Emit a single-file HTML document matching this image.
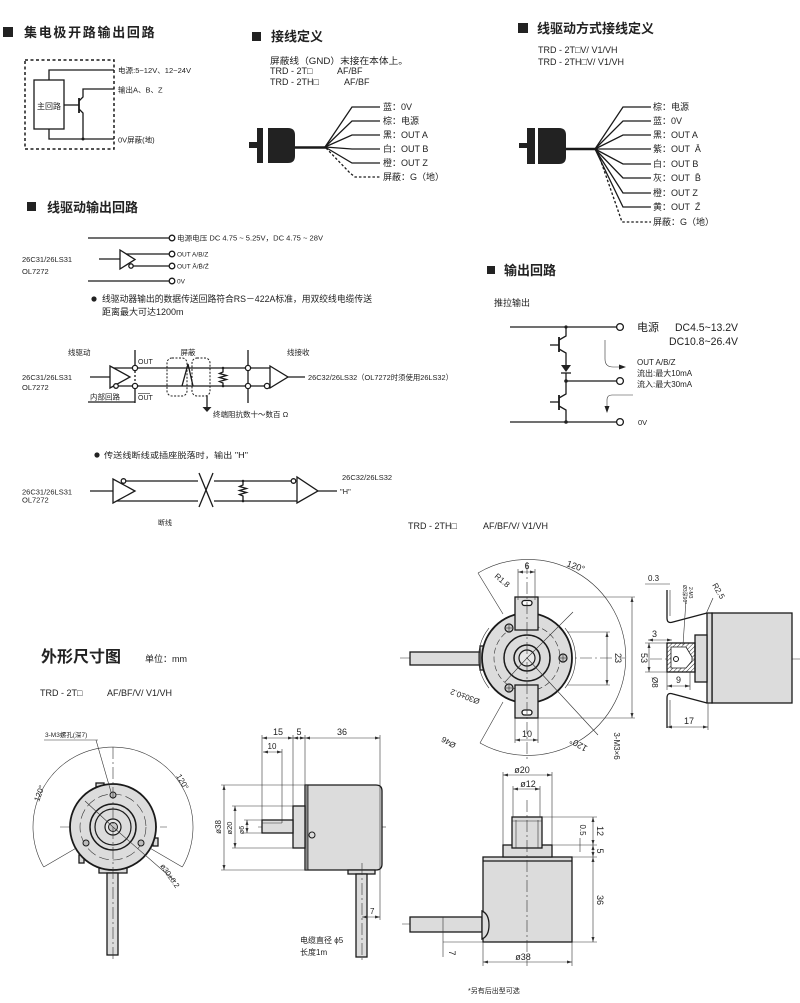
<!DOCTYPE html>
<html><head><meta charset="utf-8"><style>
html,body{margin:0;padding:0;background:#fff}
svg{display:block}
text{font-family:"Liberation Sans","Noto Sans CJK SC",sans-serif;fill:#222}
.h{font-weight:bold;font-size:13px}
.s7{font-size:7px}.s75{font-size:7.5px}.s8{font-size:8px}.s9{font-size:9px}.s11{font-size:11px}
.l{stroke:#1a1a1a;stroke-width:1.3;fill:none}
.th{stroke:#333;stroke-width:0.6;fill:none}
.cl{stroke:#333;stroke-width:0.6;fill:none;stroke-dasharray:12,3,2,3}
.dm{stroke:#333;stroke-width:0.6;fill:none;marker-start:url(#a);marker-end:url(#a)}
.g{fill:#dcdcdc;stroke:#1a1a1a;stroke-width:1.3}
.wc{fill:#fff;stroke:#1a1a1a;stroke-width:1.3}
</style></head><body>
<svg width="800" height="1003" viewBox="0 0 800 1003" xmlns="http://www.w3.org/2000/svg">
<defs>
<marker id="a" viewBox="0 0 10 10" refX="10" refY="5" markerUnits="userSpaceOnUse" markerWidth="5" markerHeight="5" orient="auto-start-reverse"><path d="M0,2 L10,5 L0,8 z" fill="#333"/></marker>
<pattern id="hat" width="3" height="3" patternUnits="userSpaceOnUse" patternTransform="rotate(45)"><line x1="0" y1="0" x2="0" y2="3" stroke="#333" stroke-width="1"/></pattern>
</defs>
<rect width="800" height="1003" fill="#fff"/>

<!-- ===== Section 1: open collector ===== -->
<rect x="3" y="27" width="10" height="10" fill="#222"/>
<text x="24" y="37" class="h" style="letter-spacing:1.7px">集电极开路输出回路</text>
<rect x="25" y="60" width="89" height="89" fill="none" stroke="#1a1a1a" stroke-width="1.5" stroke-dasharray="3,2.5"/>
<rect x="34" y="80" width="30" height="49" class="l"/>
<text x="49" y="109" class="s8" text-anchor="middle">主回路</text>
<polyline points="49,80 49,70 114,70" class="l"/>
<polyline points="49,129 49,139 114,139" class="l"/>
<line x1="64" y1="105" x2="79" y2="105" class="l"/>
<line x1="79" y1="98" x2="79" y2="113" stroke="#1a1a1a" stroke-width="1.8"/>
<polyline points="79,101 83,97 83,89 114,89" class="l"/>
<polyline points="79,109 83,113 83,139" class="l"/>
<circle cx="83" cy="139" r="1.5" fill="#1a1a1a"/>
<text x="118" y="73" class="s75" textLength="73" lengthAdjust="spacingAndGlyphs">电源:5~12V、12~24V</text>
<text x="118" y="92.5" class="s75">输出A、B、Z</text>
<text x="118" y="142.5" class="s75">0V屏蔽(地)</text>

<!-- ===== Section 2: wiring ===== -->
<rect x="252" y="32" width="9" height="9" fill="#222"/>
<text x="271" y="41" class="h">接线定义</text>
<text x="270" y="64" class="s9" textLength="138" lengthAdjust="spacingAndGlyphs">屏蔽线（GND）末接在本体上。</text>
<text x="270" y="74" class="s9">TRD - 2T□</text><text x="337" y="74" class="s9">AF/BF</text>
<text x="270" y="85" class="s9">TRD - 2TH□</text><text x="344" y="85" class="s9">AF/BF</text>
<rect x="249" y="142" width="8" height="6" fill="#222"/>
<rect x="257" y="128" width="6" height="35" fill="#222"/>
<path d="M268,128 H288 Q295,128 295,135 V156 Q295,163 288,163 H268 Z" fill="#222"/>
<line x1="295" y1="147.5" x2="326" y2="147.5" stroke="#1a1a1a" stroke-width="2.5"/>
<g class="l">
<polyline points="325,147 352,107 380,107"/>
<polyline points="325,147 352,121 380,121"/>
<polyline points="325,147 352,135 380,135"/>
<polyline points="325,147 352,149 380,149"/>
<polyline points="325,147 352,163 380,163"/>
</g>
<polyline points="326,148 350,173 355,177 380,177" class="l" stroke-dasharray="2.5,2"/>
<g class="s9">
<text x="383" y="110">蓝：0V</text>
<text x="383" y="124">棕：电源</text>
<text x="383" y="138">黑：OUT A</text>
<text x="383" y="152">白：OUT B</text>
<text x="383" y="166">橙：OUT Z</text>
<text x="383" y="180">屏蔽：G（地）</text>
</g>

<!-- ===== Section 3: line driver wiring ===== -->
<rect x="518" y="23" width="10" height="10" fill="#222"/>
<text x="537" y="33" class="h">线驱动方式接线定义</text>
<text x="538" y="53" class="s9">TRD - 2T□V/ V1/VH</text>
<text x="538" y="65" class="s9">TRD - 2TH□V/ V1/VH</text>
<rect x="519" y="143" width="8" height="5" fill="#222"/>
<rect x="527" y="128" width="8" height="36" fill="#222"/>
<path d="M538,128 H559 Q566,128 566,135 V157 Q566,164 559,164 H538 Z" fill="#222"/>
<line x1="566" y1="149" x2="596" y2="149" stroke="#1a1a1a" stroke-width="2.5"/>
<g class="l">
<polyline points="595,149 623,107 651,107"/>
<polyline points="595,149 623,121 651,121"/>
<polyline points="595,149 623,135 651,135"/>
<polyline points="595,149 623,149 651,149"/>
<polyline points="595,149 623,164 651,164"/>
<polyline points="595,149 623,178 651,178"/>
<polyline points="595,149 623,193 651,193"/>
<polyline points="595,149 623,207 651,207"/>
</g>
<polyline points="597,150 622,222 651,222" class="l" stroke-dasharray="2.5,2"/>
<g class="s9">
<text x="653" y="110">棕：电源</text>
<text x="653" y="124">蓝：0V</text>
<text x="653" y="138">黑：OUT A</text>
<text x="653" y="152">紫：OUT &#160;A&#772;</text>
<text x="653" y="167">白：OUT B</text>
<text x="653" y="181">灰：OUT &#160;B&#772;</text>
<text x="653" y="196">橙：OUT Z</text>
<text x="653" y="210">黄：OUT &#160;Z&#772;</text>
<text x="653" y="225">屏蔽：G（地）</text>
</g>

<!-- ===== Section 4: line driver output ===== -->
<rect x="27" y="202" width="9" height="9" fill="#222"/>
<text x="47" y="212" class="h">线驱动输出回路</text>
<line x1="88" y1="238" x2="169" y2="238" class="l"/>
<circle cx="172" cy="238" r="2.8" class="wc"/>
<text x="177" y="240.5" class="s7" textLength="146" lengthAdjust="spacingAndGlyphs">电源电压 DC 4.75 ~ 5.25V，DC 4.75 ~ 28V</text>
<line x1="99" y1="259" x2="120" y2="259" class="l"/>
<polygon points="120,250 120,269 135,259.5" class="wc"/>
<line x1="126" y1="254" x2="169" y2="254" class="l"/>
<line x1="133" y1="266" x2="169" y2="266" class="l"/>
<circle cx="131" cy="266" r="2.2" class="wc"/>
<circle cx="172" cy="254" r="2.8" class="wc"/>
<circle cx="172" cy="266" r="2.8" class="wc"/>
<text x="177" y="256.5" class="s7" style="font-size:6.5px">OUT A/B/Z</text>
<text x="177" y="268.5" class="s7" style="font-size:6.5px">OUT A&#772;/B&#772;/Z&#772;</text>
<line x1="88" y1="281" x2="169" y2="281" class="l"/>
<circle cx="172" cy="281" r="2.8" class="wc"/>
<text x="177" y="283.5" class="s7" style="font-size:6.5px">0V</text>
<text x="22" y="262" class="s75">26C31/26LS31</text>
<text x="22" y="274" class="s75">OL7272</text>
<circle cx="94" cy="299" r="2.6" fill="#222"/>
<text x="102" y="302" class="s9" textLength="270" lengthAdjust="spacingAndGlyphs">线驱动器输出的数据传送回路符合RS－422A标准，用双绞线电缆传送</text>
<text x="102" y="315" class="s9">距离最大可达1200m</text>

<!-- differential line diagram -->
<text x="68" y="355" class="s75">线驱动</text>
<text x="22" y="380" class="s75">26C31/26LS31</text>
<text x="22" y="390" class="s75">OL7272</text>
<line x1="90" y1="377" x2="110" y2="377" class="l"/>
<line x1="110" y1="368" x2="270" y2="368" class="l"/>
<line x1="118" y1="386" x2="265" y2="386" class="l"/>
<polygon points="110,366 110,388 130,377" class="wc"/>
<circle cx="116" cy="386" r="2.3" class="wc"/>
<line x1="135" y1="350" x2="135" y2="365" class="l"/>
<line x1="135" y1="371" x2="135" y2="383" class="l" stroke-dasharray="2,2"/>
<line x1="135" y1="389" x2="135" y2="403" class="l"/>
<circle cx="135" cy="368" r="2.6" class="wc"/>
<circle cx="135" cy="386" r="2.6" class="wc"/>
<text x="138" y="364" class="s7">OUT</text>
<text x="138" y="400" class="s7">OUT</text>
<line x1="138" y1="393.5" x2="150" y2="393.5" stroke="#222" stroke-width="0.6"/>
<text x="90" y="399.5" class="s75">内部回路</text>
<line x1="88" y1="402" x2="135" y2="402" class="l"/>
<rect x="167" y="358" width="20" height="38" rx="5" fill="none" stroke="#1a1a1a" stroke-width="1" stroke-dasharray="2,1.5"/>
<rect x="192" y="358" width="18" height="38" rx="5" fill="none" stroke="#1a1a1a" stroke-width="1" stroke-dasharray="2,1.5"/>
<text x="188" y="355" class="s75" text-anchor="middle">屏蔽</text>
<polyline points="182,386 188,364 193,386" class="l"/>
<line x1="207" y1="396" x2="207" y2="407" class="l"/>
<polygon points="202.5,407 211.5,407 207,412" fill="#222"/>
<text x="213" y="417" class="s75">终端阻抗数十～数百 Ω</text>
<polyline points="223,368 223,372 219.5,373.5 226.5,375.5 219.5,377.5 226.5,379.5 219.5,381.5 223,383 223,386" class="l"/>
<circle cx="223" cy="368" r="1.3" fill="#222"/><circle cx="223" cy="386" r="1.3" fill="#222"/>
<line x1="248" y1="350" x2="248" y2="403" class="l"/>
<circle cx="248" cy="368" r="2.6" class="wc"/>
<circle cx="248" cy="386" r="2.6" class="wc"/>
<text x="287" y="355" class="s75">线接收</text>
<polygon points="270,366 270,388 288,377" class="wc"/>
<circle cx="267" cy="386" r="2.6" class="wc"/>
<line x1="288" y1="377" x2="305" y2="377" class="l"/>
<text x="308" y="380" class="s75" textLength="145" lengthAdjust="spacingAndGlyphs">26C32/26LS32（OL7272时须使用26LS32）</text>

<!-- broken line diagram -->
<circle cx="97" cy="455" r="2.6" fill="#222"/>
<text x="104" y="458" class="s8" textLength="144" lengthAdjust="spacingAndGlyphs">传送线断线或插座脱落时，输出 "H"</text>
<text x="22" y="494.5" class="s75">26C31/26LS31</text>
<text x="22" y="502.5" class="s75">OL7272</text>
<line x1="90" y1="491" x2="113" y2="491" class="l"/>
<line x1="126" y1="481" x2="198" y2="481" class="l"/>
<line x1="214" y1="481" x2="291" y2="481" class="l"/>
<line x1="113" y1="501" x2="198" y2="501" class="l"/>
<line x1="214" y1="501" x2="297" y2="501" class="l"/>
<polygon points="113,479 113,503 135,491" class="wc"/>
<circle cx="123.5" cy="481" r="2.3" class="wc"/>
<line x1="199" y1="473" x2="213" y2="507" class="l"/>
<line x1="213" y1="473" x2="199" y2="507" class="l"/>
<polyline points="243,481 243,485 239.5,486.5 246.5,488.5 239.5,490.5 246.5,492.5 239.5,494.5 243,496 243,501" class="l"/>
<circle cx="243" cy="481" r="1.3" fill="#222"/><circle cx="243" cy="501" r="1.3" fill="#222"/>
<polygon points="297,477 297,503 318,491" class="wc"/>
<circle cx="293.5" cy="481" r="2.3" class="wc"/>
<line x1="318" y1="491" x2="337" y2="491" class="l"/>
<text x="340" y="494" class="s75">"H"</text>
<text x="342" y="480" class="s75">26C32/26LS32</text>
<text x="158" y="525" class="s7">断线</text>
<text x="408" y="529" class="s9">TRD - 2TH□</text>
<text x="483" y="529" class="s9">AF/BF/V/ V1/VH</text>

<!-- ===== Section 5: output circuit ===== -->
<rect x="487" y="266" width="8" height="8" fill="#222"/>
<text x="504" y="275" class="h">输出回路</text>
<text x="494" y="306" class="s9">推拉输出</text>
<line x1="510" y1="327" x2="616.5" y2="327" class="l"/>
<circle cx="620" cy="327" r="3.4" class="wc"/>
<text x="637" y="331" class="s11">电源</text>
<text x="675" y="331" class="s11" textLength="63" lengthAdjust="spacingAndGlyphs">DC4.5~13.2V</text>
<text x="669" y="345" class="s11" textLength="69" lengthAdjust="spacingAndGlyphs">DC10.8~26.4V</text>
<circle cx="566" cy="327" r="1.6" fill="#222"/>
<polyline points="566,327 566,336 559,340" class="l"/>
<line x1="559" y1="337" x2="559" y2="352" stroke="#1a1a1a" stroke-width="1.8"/>
<line x1="550" y1="345" x2="559" y2="345" class="l"/>
<polyline points="559,349 566,353 566,365" class="l"/>
<polygon points="561,365 571,365 566,372" fill="#222"/>
<line x1="561" y1="373" x2="571" y2="373" class="l"/>
<polyline points="566,373 566,394 559,398" class="l"/>
<circle cx="566" cy="381" r="1.8" fill="#222"/>
<line x1="566" y1="381" x2="616.5" y2="381" class="l"/>
<circle cx="620" cy="381" r="3.4" class="wc"/>
<line x1="559" y1="395" x2="559" y2="410" stroke="#1a1a1a" stroke-width="1.8"/>
<line x1="550" y1="402" x2="559" y2="402" class="l"/>
<polyline points="559,406 566,410 566,422" class="l"/>
<line x1="510" y1="422" x2="616.5" y2="422" class="l"/>
<circle cx="566" cy="422" r="1.8" fill="#222"/>
<circle cx="620" cy="422" r="3.4" class="wc"/>
<text x="638" y="425" class="s75">0V</text>
<path d="M605,340 V359 Q605,367 613,367 H620" class="th" stroke-width="0.8"/>
<polygon points="626,367 619,364.5 619,369.5" fill="#222"/>
<text x="637" y="365" class="s8">OUT A/B/Z</text>
<text x="637" y="376" class="s8">流出:最大10mA</text>
<text x="637" y="387" class="s8">流入:最大30mA</text>
<path d="M633,395 H612 Q607,395 607,400 V407" class="th" stroke-width="0.8"/>
<polygon points="607,413 604.5,406 609.5,406" fill="#222"/>

<!-- ===== TRD-2TH front view ===== -->
<line x1="400" y1="658" x2="625" y2="658" class="cl"/>
<path d="M478,573 A98,98 0 1 1 480,743" class="th" stroke-width="0.8"/>
<line x1="478" y1="573" x2="503" y2="614" class="th"/>
<line x1="480" y1="743" x2="503" y2="702" class="th"/>
<rect x="410" y="652" width="70" height="13" class="g"/>
<rect x="480" y="646" width="5" height="24" class="g"/>
<circle cx="527" cy="658" r="45" fill="#dcdcdc" stroke="#1a1a1a" stroke-width="1.8"/>
<path d="M489,628 A48,48 0 0 0 489,688" class="th"/>
<path d="M565,628 A48,48 0 0 1 565,688" class="th"/>
<circle cx="527" cy="658" r="33" class="th" stroke-dasharray="6,3"/>
<circle cx="527" cy="658" r="23" fill="none" stroke="#1a1a1a" stroke-width="1.5"/>
<circle cx="527" cy="658" r="13" fill="none" stroke="#1a1a1a" stroke-width="1.5"/>
<circle cx="527" cy="658" r="8" fill="#e8e8e8" stroke="#1a1a1a" stroke-width="1.2"/>
<line x1="527" y1="658" x2="573" y2="612" class="th"/>
<line x1="527" y1="658" x2="505" y2="682" class="th"/>
<line x1="527" y1="658" x2="598" y2="735" class="th"/>
<rect x="515" y="597" width="23" height="33" class="g" stroke-width="1.5"/>
<rect x="522" y="600.5" width="10" height="5" rx="2.5" class="wc"/>
<rect x="515" y="685" width="23" height="33" class="g" stroke-width="1.5"/>
<rect x="522" y="710" width="10" height="5" rx="2.5" class="wc"/>
<g fill="#c8c8c8" stroke="#1a1a1a" stroke-width="1.2">
<circle cx="509" cy="628" r="4"/><circle cx="509" cy="688" r="4"/><circle cx="563" cy="658" r="4"/>
</g>
<g class="th" stroke-width="0.8">
<line x1="506" y1="628" x2="512" y2="628"/><line x1="509" y1="625" x2="509" y2="631"/>
<line x1="506" y1="688" x2="512" y2="688"/><line x1="509" y1="685" x2="509" y2="691"/>
<line x1="560" y1="658" x2="566" y2="658"/><line x1="563" y1="655" x2="563" y2="661"/>
</g>
<line x1="527" y1="562" x2="527" y2="760" class="cl"/>
<line x1="518" y1="569" x2="518" y2="600" class="th"/><line x1="535" y1="569" x2="535" y2="600" class="th"/>
<line x1="518" y1="572" x2="535" y2="572" class="dm"/>
<text x="527" y="569" class="s9" text-anchor="middle">6</text>
<line x1="515" y1="718" x2="515" y2="743" class="th"/><line x1="538" y1="718" x2="538" y2="743" class="th"/>
<line x1="515" y1="740" x2="538" y2="740" class="dm"/>
<text x="527" y="737" class="s9" text-anchor="middle">10</text>
<line x1="538" y1="597" x2="635" y2="597" class="th"/><line x1="538" y1="718" x2="635" y2="718" class="th"/>
<line x1="632" y1="597" x2="632" y2="718" class="dm"/>
<text x="0" y="0" class="s9" text-anchor="middle" transform="translate(641,658) rotate(90)">53</text>
<line x1="567" y1="632" x2="610" y2="632" class="th"/><line x1="567" y1="685" x2="610" y2="685" class="th"/>
<line x1="607" y1="632" x2="607" y2="685" class="dm"/>
<text x="0" y="0" class="s9" text-anchor="middle" transform="translate(615,658) rotate(90)">23</text>
<text x="0" y="0" class="s8" transform="translate(494,577) rotate(40)">R1.8</text>
<text x="0" y="0" class="s9" transform="translate(566,566) rotate(20)">120°</text>
<text x="0" y="0" class="s9" text-anchor="middle" transform="translate(580,742) rotate(210)">120°</text>
<text x="0" y="0" class="s8" text-anchor="middle" transform="translate(466,694) rotate(200)">Ø30±0.2</text>
<text x="0" y="0" class="s8" text-anchor="middle" transform="translate(450,740) rotate(210)">Ø46</text>
<text x="0" y="0" class="s8" text-anchor="middle" transform="translate(614,746) rotate(90)">3-M3×6</text>

<!-- ===== TRD-2TH side view ===== -->
<line x1="650" y1="659" x2="800" y2="659" class="cl"/>
<rect x="712" y="613" width="80" height="90" class="g"/>
<rect x="707" y="613" width="5" height="90" class="g"/>
<rect x="695" y="635" width="12" height="47" class="g"/>
<rect x="667" y="643" width="28" height="29" fill="url(#hat)" stroke="#1a1a1a" stroke-width="1.3"/>
<path d="M671,647 H686 L692,657 V661 L686,668 H671 Z" fill="#fff" stroke="#1a1a1a" stroke-width="0.8"/>
<circle cx="676" cy="659" r="2.5" fill="#fff" stroke="#1a1a1a" stroke-width="1"/>
<path d="M667,590 V618 Q667,624 673,622 L707,613" class="l"/>
<path d="M670,590 V616" class="th"/>
<path d="M667,728 V698 Q667,692 673,694 L707,703" class="l"/>
<path d="M670,728 V700" class="th"/>
<line x1="645" y1="584" x2="670" y2="584" class="th"/>
<text x="648" y="581" class="s8">0.3</text>
<text x="0" y="0" style="font-size:5px" transform="translate(689,587) rotate(90)">2-M3</text>
<text x="0" y="0" style="font-size:5px" transform="translate(683,585) rotate(90)">Ø3深90°</text>
<line x1="686" y1="600" x2="683" y2="645" class="th"/>
<text x="0" y="0" class="s8" transform="translate(712,585) rotate(60)">R2.5</text>
<line x1="713" y1="598" x2="706" y2="614" class="th"/>
<line x1="648" y1="640" x2="672" y2="640" class="dm"/>
<text x="652" y="637" class="s9">3</text>
<line x1="645" y1="643" x2="667" y2="643" class="th"/><line x1="645" y1="672" x2="667" y2="672" class="th"/>
<line x1="649" y1="643" x2="649" y2="672" class="dm"/>
<text x="0" y="0" class="s8" transform="translate(652,677) rotate(90)">Ø8</text>
<line x1="667" y1="672" x2="667" y2="690" class="th"/><line x1="690" y1="672" x2="690" y2="690" class="th"/>
<line x1="667" y1="686" x2="690" y2="686" class="dm"/>
<text x="676" y="683" class="s9">9</text>
<line x1="667" y1="727" x2="708" y2="727" class="dm"/>
<line x1="708" y1="703" x2="708" y2="730" class="th"/>
<text x="684" y="724" class="s9">17</text>

<!-- ===== 外形尺寸图 ===== -->
<text x="41" y="662" style="font-weight:bold;font-size:16px">外形尺寸图</text>
<text x="145" y="662" class="s9">单位：mm</text>
<text x="40" y="696" class="s9">TRD - 2T□</text>
<text x="107" y="696" class="s9">AF/BF/V/ V1/VH</text>

<!-- TRD-2T front -->
<line x1="60" y1="827" x2="167" y2="827" class="cl"/>
<path d="M43.7,867 A80,80 0 1 1 182.3,867" class="th" stroke-width="0.8"/>
<line x1="43.7" y1="867" x2="78" y2="847" class="th"/>
<line x1="182.3" y1="867" x2="148" y2="847" class="th"/>
<rect x="99" y="867" width="28" height="6" class="g"/>
<rect x="107" y="873" width="11" height="82" class="g"/>
<rect x="96" y="783" width="8" height="4" class="g" stroke-width="0.8"/>
<rect x="153" y="838" width="5" height="8" class="g" stroke-width="0.8"/>
<rect x="79" y="855" width="5" height="8" class="g" stroke-width="0.8"/>
<circle cx="113" cy="827" r="43" fill="#dcdcdc" stroke="#1a1a1a" stroke-width="1.8"/>
<circle cx="113" cy="827" r="33" class="th" stroke-dasharray="10,4"/>
<circle cx="113" cy="827" r="23" fill="none" stroke="#1a1a1a" stroke-width="1.5"/>
<circle cx="113" cy="827" r="18" fill="none" stroke="#1a1a1a" stroke-width="1.2"/>
<circle cx="113" cy="827" r="8" fill="#e6e6e6" stroke="#1a1a1a" stroke-width="1.2"/>
<circle cx="113" cy="827" r="4.5" fill="#c8c8c8" stroke="#1a1a1a" stroke-width="1"/>
<g fill="#bcbcbc" stroke="#1a1a1a" stroke-width="1">
<circle cx="113" cy="795" r="3"/><circle cx="86" cy="843" r="3"/><circle cx="141" cy="843" r="3"/>
</g>
<line x1="113" y1="747" x2="113" y2="962" class="cl"/>
<line x1="85" y1="801" x2="113" y2="827" class="th"/>
<line x1="113" y1="827" x2="176" y2="882" class="th"/>
<text x="0" y="0" class="s75" transform="translate(160,866) rotate(55)">ø30±0.2</text>
<text x="0" y="0" class="s8" transform="translate(39,802) rotate(-70)">120°</text>
<text x="0" y="0" class="s8" transform="translate(176,776) rotate(60)">120°</text>
<text x="45" y="737" style="font-size:6.5px">3-M3螺孔(深7)</text>
<line x1="44" y1="740" x2="98" y2="740" class="th"/>
<line x1="96" y1="740" x2="111" y2="792" class="th"/>

<!-- TRD-2T side -->
<line x1="258" y1="827" x2="386" y2="827" class="cl"/>
<path d="M305,785 H376 Q382,785 382,791 V864 Q382,870 376,870 H305 Z" class="g"/>
<rect x="305" y="785" width="3" height="85" fill="#888" stroke="#1a1a1a" stroke-width="0.8"/>
<rect x="293" y="806" width="12" height="42" class="g"/>
<rect x="262" y="820" width="31" height="13" class="g"/>
<line x1="262" y1="823" x2="282" y2="823" class="th"/>
<line x1="282" y1="820" x2="282" y2="823" class="th"/>
<circle cx="312" cy="835" r="3" fill="#dcdcdc" stroke="#1a1a1a" stroke-width="1"/>
<rect x="348" y="870" width="27" height="4" class="g"/>
<rect x="356" y="874" width="11" height="83" class="g"/>
<line x1="362" y1="863" x2="362" y2="962" class="cl"/>
<g class="th">
<line x1="262" y1="735" x2="262" y2="820"/><line x1="293" y1="735" x2="293" y2="806"/>
<line x1="305" y1="735" x2="305" y2="785"/><line x1="380" y1="735" x2="380" y2="920"/>
<line x1="282" y1="749" x2="282" y2="820"/>
<line x1="221" y1="785" x2="305" y2="785"/><line x1="221" y1="870" x2="305" y2="870"/>
<line x1="232" y1="806" x2="293" y2="806"/><line x1="232" y1="848" x2="293" y2="848"/>
<line x1="244" y1="820" x2="262" y2="820"/><line x1="244" y1="833" x2="262" y2="833"/>
</g>
<line x1="262" y1="738" x2="293" y2="738" class="dm"/>
<line x1="293" y1="738" x2="305" y2="738" class="dm"/>
<line x1="305" y1="738" x2="380" y2="738" class="dm"/>
<line x1="263" y1="752" x2="282" y2="752" class="dm"/>
<text x="278" y="735" class="s9" text-anchor="middle">15</text>
<text x="299" y="735" class="s9" text-anchor="middle">5</text>
<text x="342" y="735" class="s9" text-anchor="middle">36</text>
<text x="272" y="749" class="s8" text-anchor="middle">10</text>
<line x1="224" y1="785" x2="224" y2="870" class="dm"/>
<line x1="235" y1="806" x2="235" y2="848" class="dm"/>
<line x1="247" y1="820" x2="247" y2="833" class="dm"/>
<text x="0" y="0" class="s8" text-anchor="middle" transform="translate(221,827) rotate(-90)">ø38</text>
<text x="0" y="0" class="s75" text-anchor="middle" transform="translate(232,828) rotate(-90)">ø20</text>
<text x="0" y="0" class="s7" text-anchor="middle" transform="translate(244,830) rotate(-90)">ø6</text>
<line x1="362" y1="917" x2="380" y2="917" class="dm"/>
<text x="370" y="914" class="s8">7</text>
<text x="300" y="943" class="s8">电缆直径 ϕ5</text>
<text x="300" y="955" class="s8">长度1m</text>

<!-- TRD-2TH side (bottom) -->
<line x1="402" y1="924" x2="500" y2="924" class="cl"/>
<rect x="483" y="857" width="89" height="85" class="g"/>
<line x1="483" y1="861" x2="572" y2="861" class="l"/>
<rect x="503" y="845" width="49" height="12" class="g"/>
<rect x="512" y="817" width="30" height="31" class="g"/>
<line x1="516" y1="820" x2="516" y2="848" class="th"/>
<line x1="538" y1="820" x2="538" y2="848" class="th"/>
<line x1="512" y1="821" x2="542" y2="821" class="th"/>
<rect x="410" y="917" width="72" height="15" class="g"/>
<path d="M482,911 Q489,914 489,925 Q489,936 482,939 Z" class="g"/>
<line x1="527" y1="800" x2="527" y2="966" class="cl"/>
<g class="th">
<line x1="503" y1="772" x2="503" y2="845"/><line x1="552" y1="772" x2="552" y2="845"/>
<line x1="513" y1="786" x2="513" y2="817"/><line x1="540" y1="786" x2="540" y2="817"/>
<line x1="542" y1="817" x2="597" y2="817"/><line x1="552" y1="845" x2="597" y2="845"/>
<line x1="572" y1="857" x2="597" y2="857"/><line x1="572" y1="942" x2="597" y2="942"/>
<line x1="483" y1="942" x2="483" y2="966"/><line x1="572" y1="942" x2="572" y2="966"/>
<line x1="443" y1="917" x2="443" y2="957"/><line x1="443" y1="942" x2="483" y2="942"/>
</g>
<line x1="503" y1="775" x2="552" y2="775" class="dm"/>
<line x1="513" y1="789" x2="540" y2="789" class="dm"/>
<text x="522" y="773" class="s9" text-anchor="middle">ø20</text>
<text x="528" y="787" class="s9" text-anchor="middle">ø12</text>
<line x1="593" y1="817" x2="593" y2="845" class="dm"/>
<line x1="593" y1="845" x2="593" y2="857" class="dm"/>
<line x1="593" y1="857" x2="593" y2="942" class="dm"/>
<line x1="580" y1="838" x2="580" y2="852" class="th"/>
<text x="0" y="0" class="s9" text-anchor="middle" transform="translate(597,831) rotate(90)">12</text>
<text x="0" y="0" class="s8" text-anchor="middle" transform="translate(580,830) rotate(90)">0.5</text>
<text x="0" y="0" class="s9" text-anchor="middle" transform="translate(597,851) rotate(90)">5</text>
<text x="0" y="0" class="s9" text-anchor="middle" transform="translate(597,900) rotate(90)">36</text>
<line x1="483" y1="962" x2="572" y2="962" class="dm"/>
<text x="523" y="960" class="s9" text-anchor="middle">ø38</text>
<text x="0" y="0" class="s9" text-anchor="middle" transform="translate(449,953) rotate(90)">7</text>
<text x="468" y="993" class="s7">*另有后出型可选</text>
</svg>
</body></html>
